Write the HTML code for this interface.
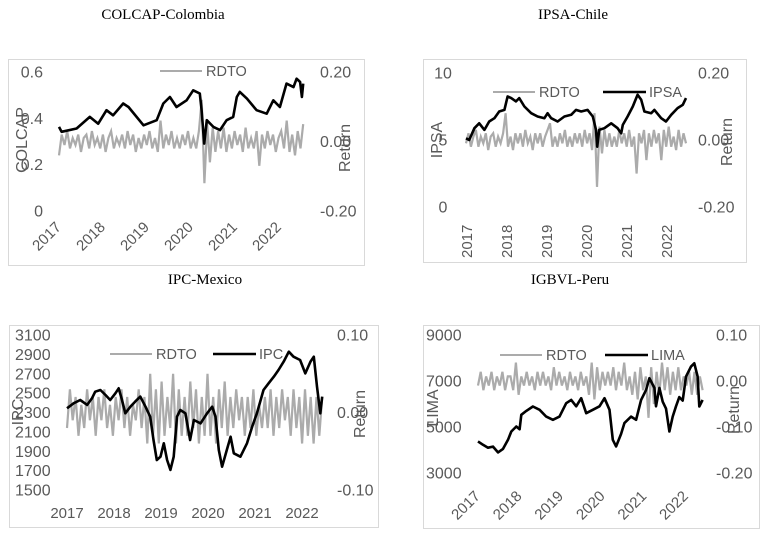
<!DOCTYPE html>
<html><head><meta charset="utf-8">
<style>
html,body{margin:0;padding:0;background:#fff;}
svg{display:block;font-family:"Liberation Sans",sans-serif;}
.t{font-family:"Liberation Serif",serif;font-size:15px;fill:#000;}
.tk{font-size:16px;fill:#595959;}
.yr{font-size:15px;fill:#595959;}
.lg{font-size:14.5px;fill:#595959;}
</style></head>
<body>
<svg id="chart" width="766" height="542" viewBox="0 0 766 542">
<text class="t" x="163" y="19" text-anchor="middle">COLCAP-Colombia</text>
<text class="t" x="573" y="19" text-anchor="middle">IPSA-Chile</text>
<text class="t" x="205" y="284" text-anchor="middle">IPC-Mexico</text>
<text class="t" x="570" y="284" text-anchor="middle">IGBVL-Peru</text>
</svg>
<script>
// ---- data ----
const colcapYears=[2017.00,2017.06,2017.40,2017.70,2017.89,2018.08,2018.23,2018.46,2018.58,2018.92,2019.22,2019.37,2019.52,2019.67,2019.90,2020.05,2020.20,2020.24,2020.30,2020.36,2020.51,2020.66,2020.81,2020.96,2021.04,2021.11,2021.27,2021.49,2021.72,2021.87,2022.02,2022.17,2022.33,2022.40,2022.48,2022.52,2022.55];
const colcapValues=[0.363,0.342,0.356,0.406,0.377,0.435,0.413,0.464,0.449,0.370,0.392,0.464,0.492,0.449,0.478,0.521,0.507,0.435,0.291,0.392,0.363,0.349,0.392,0.406,0.492,0.514,0.485,0.435,0.420,0.478,0.449,0.550,0.535,0.571,0.557,0.492,0.550];
const colcapReturns=[-4,2,-1,3,-2,1,-1,2,-3,1,2,-2,3,-1,1,-2,2,-3,1,3,-2,1,-1,2,-2,3,-1,2,-3,1,-2,2,-1,3,-2,1,-3,6,-2,2,-1,3,-2,1,-2,2,-1,3,-2,1,-2,3,12,-12,5,-6,4,-3,3,-2,4,-3,2,-2,3,-1,2,-3,4,-2,1,-2,3,-7,2,-2,3,-1,2,-3,1,3,-2,6,-3,2,-4,3,-2,5];
const colcapSpan=[2017.0,2022.55];

const ipsaYears=[2017.00,2017.08,2017.21,2017.33,2017.46,2017.58,2017.71,2017.83,2017.96,2018.04,2018.13,2018.25,2018.33,2018.46,2018.63,2018.79,2018.96,2019.04,2019.13,2019.29,2019.46,2019.63,2019.75,2019.88,2020.04,2020.17,2020.25,2020.28,2020.33,2020.46,2020.63,2020.79,2020.88,2020.92,2021.04,2021.17,2021.29,2021.38,2021.46,2021.63,2021.71,2021.88,2022.00,2022.13,2022.29,2022.42,2022.50];
const ipsaValues=[5.13,5.00,5.88,6.25,5.75,6.38,6.63,7.13,7.25,8.25,8.13,7.88,8.13,7.50,7.00,6.75,6.63,7.00,6.63,6.38,6.75,6.88,7.25,7.13,7.25,6.75,5.75,4.50,5.75,5.88,6.25,5.88,5.50,6.13,6.75,7.50,8.38,8.00,7.13,7.00,7.25,6.63,6.38,6.88,7.38,7.63,8.13];
const ipsaReturns=[-1,2,-2,1,3,-2,1,-1,2,-3,1,2,-2,1,-1,2,8,-2,1,-3,2,-1,2,-2,3,-1,1,-3,2,-1,2,-2,1,3,5,-2,1,-2,2,-1,3,-2,1,-2,2,-1,2,-2,3,-1,2,-3,8,-14,4,-4,3,-2,2,-2,1,-2,3,-1,2,-2,3,-2,1,-10,2,-1,3,-6,2,-2,3,-1,2,-6,3,-2,4,-2,1,-3,3,-2,2,-1];
const ipsaSpan=[2017.0,2022.5];

const ipcYears=[2017.00,2017.14,2017.28,2017.43,2017.53,2017.60,2017.71,2017.82,2017.92,2018.03,2018.10,2018.17,2018.24,2018.35,2018.45,2018.56,2018.67,2018.77,2018.84,2018.91,2018.99,2019.06,2019.13,2019.20,2019.27,2019.34,2019.41,2019.52,2019.62,2019.70,2019.84,2019.98,2020.09,2020.16,2020.23,2020.30,2020.40,2020.48,2020.55,2020.69,2020.83,2020.94,2021.04,2021.18,2021.29,2021.40,2021.50,2021.61,2021.72,2021.82,2021.96,2022.07,2022.18,2022.25,2022.32,2022.39,2022.43];
const ipcValues=[2343,2395,2429,2378,2446,2515,2532,2481,2429,2498,2550,2429,2292,2360,2412,2464,2360,2257,2016,1810,1844,1982,1810,1707,1844,2257,2326,2292,2016,2223,2188,2292,2360,2257,1913,1741,1913,2050,1879,1844,1982,2154,2292,2532,2601,2670,2739,2825,2928,2876,2842,2704,2825,2876,2567,2292,2464];
const ipcReturns=[-2,3,-1,2,-3,1,-2,3,-1,2,-3,2,-1,3,-2,1,-3,2,-1,3,-2,2,-3,1,-1,3,-2,2,-4,5,-3,3,-4,4,-3,2,-2,5,-4,3,-3,2,-3,4,-2,3,-4,2,-3,5,-3,2,-4,3,-2,4,-3,2,-2,3,-1,2,-3,2,-2,3,-3,1,-2,2,-2,3,-3,2,-2,3,-1,2,-3,3,-2,2,-4,3,-3,2,-4,2,-3,2];
const ipcSpan=[2017.0,2022.43];

const limaYears=[2017.00,2017.12,2017.24,2017.36,2017.48,2017.60,2017.72,2017.80,2017.92,2018.00,2018.04,2018.16,2018.32,2018.48,2018.64,2018.80,2018.96,2019.12,2019.24,2019.36,2019.48,2019.60,2019.76,2019.92,2020.04,2020.16,2020.24,2020.32,2020.44,2020.52,2020.68,2020.80,2020.92,2021.04,2021.12,2021.24,2021.28,2021.36,2021.44,2021.52,2021.60,2021.68,2021.76,2021.84,2021.92,2022.00,2022.12,2022.20,2022.28,2022.32,2022.40];
const limaValues=[4373,4228,4100,4150,3896,4050,4445,4806,5023,4900,5530,5700,5891,5750,5450,5313,5450,6036,6180,5900,6253,5602,5750,5900,6253,5750,4445,4156,4700,5168,5450,5313,6180,6614,7120,6700,5900,6700,6100,5800,4806,5450,5900,6300,6150,7192,7626,7771,7200,5891,6180];
const limaReturns=[-1,2,-2,1,-1,2,-2,1,-1,2,-2,1,1,-2,4,-3,1,-1,2,-1,1,-2,2,-1,2,-1,1,-2,3,-1,2,-1,1,-2,2,-1,1,-2,2,-1,1,-3,4,-4,3,-2,2,-1,2,-1,3,-2,2,-1,4,-2,1,-3,2,-4,3,-2,1,-8,3,-5,2,-3,4,-2,3,-3,2,-2,3,-2,1,-1,2,-3,2,-3,1,-2];
const limaSpan=[2017.0,2022.4];

const yearLabels=["2017","2018","2019","2020","2021","2022"];
const colcapTicks=[0,0.2,0.4,0.6];
const colcapTickLabels=["0","0.2","0.4","0.6"];
const ipsaTicks=[0,5,10];
const ipsaTickLabels=["0","5","10"];
const ipcTicks=[1500,1700,1900,2100,2300,2500,2700,2900,3100];
const ipcTickLabels=["1500","1700","1900","2100","2300","2500","2700","2900","3100"];
const limaTicks=[3000,5000,7000,9000];
const limaTickLabels=["3000","5000","7000","9000"];
const ret2Ticks=[-0.2,0,0.2];
const ret2Labels=["-0.20","0.00","0.20"];
const ret1Ticks=[-0.2,-0.1,0,0.1,0.2];
const ret1Labels=["-0.20","-0.10","0.00","0.10","0.20"];
const ret3Ticks=[-0.1,0,0.1];
const ret3Labels=["-0.10","0.00","0.10"];
const ret4Ticks=[-0.2,-0.1,0,0.1];
const ret4Labels=["-0.20","-0.10","0.00","0.10"];

const NS="http://www.w3.org/2000/svg";
const svg=document.getElementById('chart');
function mk(tag,attrs,parent){const e=document.createElementNS(NS,tag);for(const k in attrs)e.setAttribute(k,attrs[k]);(parent||svg).appendChild(e);return e;}

function panel(c){
  const g=mk('g',{});
  
  
  const box=mk('rect',{x:c.box[0]+0.5,y:c.box[1]+0.5,width:c.box[2],height:c.box[3],fill:'none',stroke:'#d9d9d9','stroke-width':1},g);
  
  
  const X=yr=>c.x0+c.xs*(yr-2017);
  const YL=v=>c.ly0+(v-c.lmin)/(c.lmax-c.lmin)*(c.ly1-c.ly0);
  const YR=v=>c.ry0+(v-c.rmin)/(c.rmax-c.rmin)*(c.ry1-c.ry0);
  c.lt.forEach((v,i)=>{
    const t=mk('text',{x:c.lx,y:YL(v)+5.5,'text-anchor':c.la,class:'tk'},g);
    t.textContent=c.ltl[i];
    
    
  });
  c.rt.forEach((v,i)=>{
    const t=mk('text',{x:c.rx,y:YR(v)+5.5,'text-anchor':'start',class:'tk'},g);
    t.textContent=c.rtl[i];
    
    
  });
  yearLabels.forEach((s,i)=>{
    const xx=X(2017+i);let t;
    if(c.rot===-45){t=mk('text',{x:xx+3,y:c.yy,'text-anchor':'end',class:'yr',transform:`rotate(-45 ${xx+3} ${c.yy})`},g);}
    else if(c.rot===-90){t=mk('text',{x:xx+6,y:c.yy,'text-anchor':'start',class:'yr',transform:`rotate(-90 ${xx+6} ${c.yy})`},g);}
    else{t=mk('text',{x:xx,y:c.yy,'text-anchor':'middle',class:'yr'},g);}
    t.textContent=s;
    
    
  });
  const n=c.ret.length;let d='';
  c.ret.forEach((r,i)=>{const yr=c.span[0]+(c.span[1]-c.span[0])*i/(n-1);d+=(i?'L':'M')+X(yr).toFixed(1)+' '+YR(r/100).toFixed(1);});
  const rp=mk('path',{d:d,fill:'none',stroke:'#ababab','stroke-width':2.2,'stroke-linejoin':'miter'},g);
  
  
  let d2='';
  c.yrs.forEach((yr,i)=>{d2+=(i?'L':'M')+X(yr).toFixed(1)+' '+YL(c.vals[i]).toFixed(1);});
  const pp=mk('path',{d:d2,fill:'none',stroke:'#000','stroke-width':2.6,'stroke-linejoin':'round'},g);
  
  
  const lg=mk('g',{},g);
  
  
  mk('line',{x1:c.leg[0],x2:c.leg[0]+42,y1:c.leg[1],y2:c.leg[1],stroke:'#ababab','stroke-width':2},lg);
  const lt=mk('text',{x:c.leg[0]+46,y:c.leg[1]+5,class:'lg'},lg);
  lt.textContent='RDTO';
  if(c.leg2){
    mk('line',{x1:c.leg2[0],x2:c.leg2[0]+43,y1:c.leg[1],y2:c.leg[1],stroke:'#000','stroke-width':2.4},lg);
    const lt2=mk('text',{x:c.leg2[0]+46,y:c.leg[1]+5,class:'lg'},lg);
    lt2.textContent=c.leg2[1];
  }
  const at=mk('text',{x:c.lat[0],y:c.lat[1],'text-anchor':'middle',class:'tk',transform:`rotate(-90 ${c.lat[0]} ${c.lat[1]})`},g);
  at.textContent=c.ltitle;
  
  
  const rt=mk('text',{x:c.rat[0],y:c.rat[1],'text-anchor':'middle',class:'tk',transform:`rotate(-90 ${c.rat[0]} ${c.rat[1]})`},g);
  rt.textContent='Return';
  
  
}

panel({key:'colcap',box:[8,59,356,206],x0:59,xs:44,lmin:0,lmax:0.6,ly0:211,ly1:72,rmin:-0.2,rmax:0.2,ry0:211,ry1:72,
  lt:colcapTicks,ltl:colcapTickLabels,lx:43,la:'end',rt:ret2Ticks,rtl:ret2Labels,rx:320,rot:-45,yy:228,
  ret:colcapReturns,span:colcapSpan,yrs:colcapYears,vals:colcapValues,leg:[160,71],leg2:null,lat:[27,140],rat:[350,148],ltitle:'COLCAP'});
panel({key:'ipsa',box:[423,59,323,203],x0:466,xs:40,lmin:0,lmax:10,ly0:207,ly1:73,rmin:-0.2,rmax:0.2,ry0:207,ry1:73,
  lt:ipsaTicks,ltl:ipsaTickLabels,lx:443,la:'middle',rt:ret2Ticks,rtl:ret2Labels,rx:698,rot:-90,yy:258,
  ret:ipsaReturns,span:ipsaSpan,yrs:ipsaYears,vals:ipsaValues,leg:[493,92],leg2:[603,'IPSA'],lat:[442,140],rat:[732,142],ltitle:'IPSA'});
panel({key:'ipc',box:[9,325,369,202],x0:67,xs:47,lmin:1500,lmax:3100,ly0:490,ly1:335,rmin:-0.1,rmax:0.1,ry0:490,ry1:335,
  lt:ipcTicks,ltl:ipcTickLabels,lx:15,la:'start',rt:ret3Ticks,rtl:ret3Labels,rx:337,rot:0,yy:518,
  ret:ipcReturns,span:ipcSpan,yrs:ipcYears,vals:ipcValues,leg:[110,354],leg2:[213,'IPC'],lat:[23,412],rat:[365,414],ltitle:'IPC'});
panel({key:'lima',box:[423,325,336,203],x0:478,xs:41.6,lmin:3000,lmax:9000,ly0:473,ly1:335,rmin:-0.2,rmax:0.1,ry0:473,ry1:335,
  lt:limaTicks,ltl:limaTickLabels,lx:426,la:'start',rt:ret4Ticks,rtl:ret4Labels,rx:716,rot:-45,yy:497,
  ret:limaReturns,span:limaSpan,yrs:limaYears,vals:limaValues,leg:[500,355],leg2:[605,'LIMA'],lat:[438,408],rat:[739,410],ltitle:'LIMA'});
</script>
</body></html>
